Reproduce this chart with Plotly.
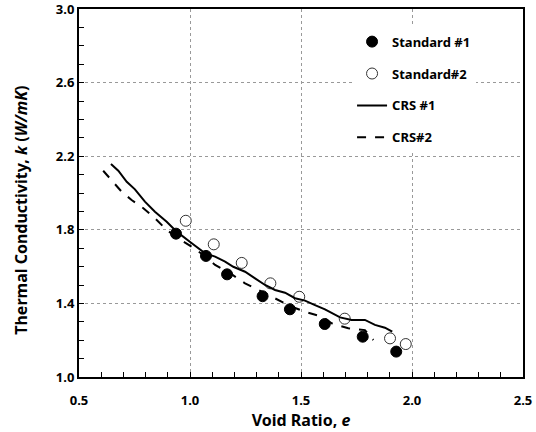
import plotly.graph_objects as go

# Standard #1 (filled circles)
std1_e = [0.937, 1.072, 1.167, 1.327, 1.450, 1.607, 1.778, 1.929]
std1_k = [1.779, 1.658, 1.558, 1.439, 1.368, 1.288, 1.219, 1.138]

# Standard #2 (open circles)
std2_e = [0.981, 1.107, 1.233, 1.362, 1.492, 1.697, 1.901, 1.972]
std2_k = [1.849, 1.721, 1.620, 1.509, 1.436, 1.317, 1.210, 1.179]

# CRS #1 (solid line)
crs1_e = [0.644, 0.677, 0.715, 0.752, 0.797, 0.842, 0.895, 0.940, 1.008, 1.068,
          1.113, 1.158, 1.195, 1.248, 1.293, 1.338, 1.383, 1.428, 1.473, 1.518,
          1.563, 1.608, 1.676, 1.728, 1.788, 1.833, 1.878, 1.911]
crs1_k = [2.158, 2.121, 2.061, 2.020, 1.953, 1.898, 1.844, 1.790, 1.727, 1.672,
          1.654, 1.627, 1.599, 1.572, 1.536, 1.500, 1.473, 1.458, 1.428, 1.415,
          1.391, 1.368, 1.324, 1.310, 1.310, 1.283, 1.268, 1.246]

# CRS#2 (dashed line)
crs2_e = [0.609, 0.655, 0.692, 0.737, 0.790, 0.842, 0.895, 0.947, 1.008, 1.060,
          1.113, 1.180, 1.248, 1.323, 1.398, 1.458, 1.518, 1.593, 1.638, 1.713,
          1.788, 1.826]
crs2_k = [2.121, 2.061, 2.007, 1.962, 1.917, 1.863, 1.799, 1.754, 1.708, 1.663,
          1.609, 1.564, 1.509, 1.464, 1.418, 1.382, 1.355, 1.328, 1.292, 1.265,
          1.255, 1.201]

x_ticks = [0.5, 1.0, 1.5, 2.0, 2.5]
x_ticklabels = ["0.5", "1.0", "1.5", "2.0", "2.5"]
y_ticks = [1.0, 1.4, 1.8, 2.2, 2.6, 3.0]
y_ticklabels = ["1.0", "1.4", "1.8", "2.2", "2.6", "3.0"]

FONT = "Noto Sans"

fig = go.Figure()
fig.add_trace(go.Scatter(x=std1_e, y=std1_k, mode="markers", name="Standard #1",
                         legendgroup="a",
                         marker=dict(symbol="circle", size=11, color="black",
                                     line=dict(color="black", width=1))))
fig.add_trace(go.Scatter(x=std2_e, y=std2_k, mode="markers", name="Standard#2",
                         legendgroup="b",
                         marker=dict(symbol="circle", size=11, color="white",
                                     line=dict(color="#333333", width=1))))
fig.add_trace(go.Scatter(x=crs1_e, y=crs1_k, mode="lines", name="CRS #1",
                         legendgroup="c",
                         line=dict(color="black", width=2)))
fig.add_trace(go.Scatter(x=crs2_e, y=crs2_k, mode="lines", name="CRS#2",
                         legendgroup="d",
                         line=dict(color="black", width=2, dash="dash")))

axis_common = dict(
    showline=True, linecolor="black", linewidth=2, mirror=True,
    ticks="inside", ticklen=5, tickcolor="black", tickwidth=1,
    showgrid=True, gridcolor="#999999", griddash="dot", gridwidth=1,
    zeroline=False, automargin=False, ticklabeloverflow="allow",
    tickfont=dict(family=FONT, size=13, color="black", weight="bold"),
)

fig.update_xaxes(range=[0.5, 2.5], tickvals=x_ticks, ticktext=x_ticklabels,
                 ticklabelstandoff=10,
                 minor=dict(dtick=0.1, tick0=0.5, ticks="inside", ticklen=5,
                            tickcolor="black", showgrid=False),
                 title=dict(text="Void Ratio, <i>e</i>", standoff=6,
                            font=dict(family=FONT, size=16, color="black", weight="bold")),
                 **axis_common)
fig.update_yaxes(range=[1.0, 3.0], tickvals=y_ticks, ticktext=y_ticklabels,
                 minor=dict(dtick=0.1, tick0=1.0, ticks="inside", ticklen=5,
                            tickcolor="black", showgrid=False),
                 **axis_common)

fig.add_annotation(text="Thermal Conductivity, <i>k</i> (<i>W/mK</i>)",
                   xref="paper", yref="paper", x=-0.131, y=0.454,
                   xanchor="center", yanchor="middle", textangle=-90,
                   showarrow=False,
                   font=dict(family=FONT, size=16, color="black", weight="bold"))

fig.update_layout(
    width=536, height=432,
    margin=dict(l=79, r=13, t=9, b=55),
    paper_bgcolor="white", plot_bgcolor="white",
    font=dict(family=FONT, color="black"),
    legend=dict(x=0.615, y=0.952, xanchor="left", yanchor="top",
                bgcolor="white", borderwidth=0,
                tracegroupgap=12, traceorder="grouped",
                font=dict(family=FONT, size=13, color="black", weight="bold")),
)

fig.write_html("out.html", config={"displayModeBar": False},
               post_script="document.body.style.margin='0';document.body.style.padding='0';")
